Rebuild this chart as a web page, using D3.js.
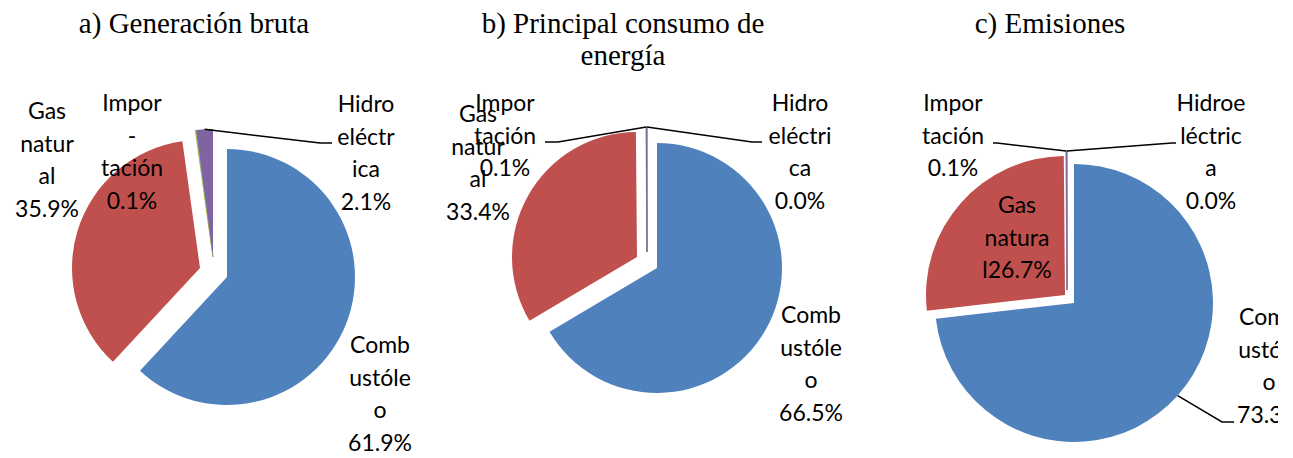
<!DOCTYPE html>
<html>
<head>
<meta charset="utf-8">
<script src="https://cdn.jsdelivr.net/npm/d3@7"></script>
<style>
  html, body { margin: 0; padding: 0; background: #fff; overflow: hidden; }
  svg { display: block; }
</style>
</head>
<body>
<svg id="chart" width="1293" height="458"></svg>
<script>
// categories, in slice order (clockwise from 12 o'clock)
const categories = ["Combustóleo", "Gas natural", "Importación", "Hidroeléctrica"];
const colors = ["#4F81BD", "#C0504D", "#9BBB59", "#8064A2"];

const titles = [
  ["a) Generación bruta"],
  ["b) Principal consumo de", "energía"],
  ["c) Emisiones"]
];

// percent shares
const valuesA = [61.9, 35.9, 0.1, 2.1];
const valuesB = [66.5, 33.4, 0.1, 0.04];
const valuesC = [73.3, 26.7, 0.1, 0.04];

// category names as wrapped in the data labels
const labelLinesA = [["Comb", "ustóle", "o"], ["Gas", "natur", "al"], ["Impor", "-", "tación"], ["Hidro", "eléctr", "ica"]];
const labelLinesB = [["Comb", "ustóle", "o"], ["Gas", "natur", "al"], ["Impor", "tación"], ["Hidro", "eléctri", "ca"]];
const labelLinesC = [["Comb", "ustóle", "o"], ["Gas", "natura", "l"], ["Impor", "tación"], ["Hidroe", "léctric", "a"]];

// layout only: centres, radii, explode offsets, label anchors, leader elbows
const layout = [
  {
    values: valuesA, lines: labelLinesA, title: titles[0], titleX: 194,
    cx: 227, cy: 277, r: 128,
    explode: [[0, 0], [-27, -9], [-14, -20], [-14, -20]],
    labels: [[380, 353], [47, 119], [132, 111], [366, 112]],
    join: [false, false, false, false],
    leaders: [null, null, null, [[320, 143], [332, 143]]]
  },
  {
    values: valuesB, lines: labelLinesB, title: titles[1], titleX: 623,
    cx: 657, cy: 268, r: 125,
    explode: [[0, 0], [-20, -11], [-10, -16], [-10, -16]],
    labels: [[811, 323], [478, 122], [505, 111], [800, 111]],
    join: [false, false, false, false],
    leaders: [null, null, [[558, 142], [545, 142]], [[752, 142], [762, 142]]]
  },
  {
    values: valuesC, lines: labelLinesC, title: titles[2], titleX: 1050,
    cx: 1074, cy: 303, r: 139,
    explode: [[0, 0], [-9, -8], [-7, -13], [-7, -13]],
    labels: [[1269, 325], [1017, 213], [953, 111], [1211, 111]],
    join: [false, true, false, false],
    leaders: [[[1222, 422], [1234, 422]], null, [[997, 143], [993, 143]], [[1172, 143], [1176, 143]]]
  }
];

const lineHeight = 32.5;
// the original figure is cropped on its right side
const clipRight = 1278;

document.addEventListener("DOMContentLoaded", function() {
  const root = d3.select("#chart");

  root.append("defs")
    .append("clipPath")
    .attr("id", "crop")
    .append("rect")
    .attr("x", 0)
    .attr("y", 0)
    .attr("width", clipRight)
    .attr("height", 458);

  const svg = root.append("g").attr("clip-path", "url(#crop)");

  const pie = d3.pie().sort(null).value(d => d);

  layout.forEach(cfg => {
    // title
    svg.append("text")
      .attr("x", cfg.titleX)
      .attr("y", 33)
      .attr("text-anchor", "middle")
      .style("font-family", "'Liberation Serif', 'Times New Roman', serif")
      .style("font-size", "29px")
      .style("fill", "#000")
      .selectAll("tspan")
      .data(cfg.title)
      .enter()
      .append("tspan")
      .attr("x", cfg.titleX)
      .attr("dy", (d, i) => i == 0 ? 0 : 32)
      .text(d => d);

    const arcs = pie(cfg.values);
    const arc = d3.arc().innerRadius(0).outerRadius(cfg.r);

    const g = svg.append("g")
      .attr("transform", `translate(${cfg.cx},${cfg.cy})`);

    g.selectAll("path")
      .data(arcs)
      .enter()
      .append("path")
      .attr("d", arc)
      .attr("transform", (d, i) => `translate(${cfg.explode[i][0]},${cfg.explode[i][1]})`)
      .style("fill", (d, i) => colors[i])
      .style("stroke", (d, i) => d.endAngle - d.startAngle < 0.01 ? colors[i] : "none")
      .style("stroke-width", 1);

    // leader lines from the slice edge to the label
    arcs.forEach((d, i) => {
      if (!cfg.leaders[i]) return;
      let mid = (d.startAngle + d.endAngle) / 2;
      let start = [
        cfg.cx + cfg.explode[i][0] + Math.sin(mid) * cfg.r,
        cfg.cy + cfg.explode[i][1] - Math.cos(mid) * cfg.r
      ];
      svg.append("path")
        .attr("d", d3.line()([start].concat(cfg.leaders[i])))
        .style("fill", "none")
        .style("stroke", "#000")
        .style("stroke-width", 1.5);
    });

    // data labels
    arcs.forEach((d, i) => {
      let pct = d.data.toFixed(1) + "%";
      let lines = cfg.lines[i].slice();
      if (cfg.join[i]) lines[lines.length - 1] += pct;
      else lines.push(pct);

      svg.append("text")
        .attr("text-anchor", "middle")
        .style("font-family", "Lato, 'Open Sans', sans-serif")
        .style("font-size", "23px")
        .style("fill", "#000")
        .selectAll("tspan")
        .data(lines)
        .enter()
        .append("tspan")
        .attr("x", cfg.labels[i][0])
        .attr("y", (l, j) => cfg.labels[i][1] + j * lineHeight)
        .text(l => l);
    });
  });
});
</script>
</body>
</html>
